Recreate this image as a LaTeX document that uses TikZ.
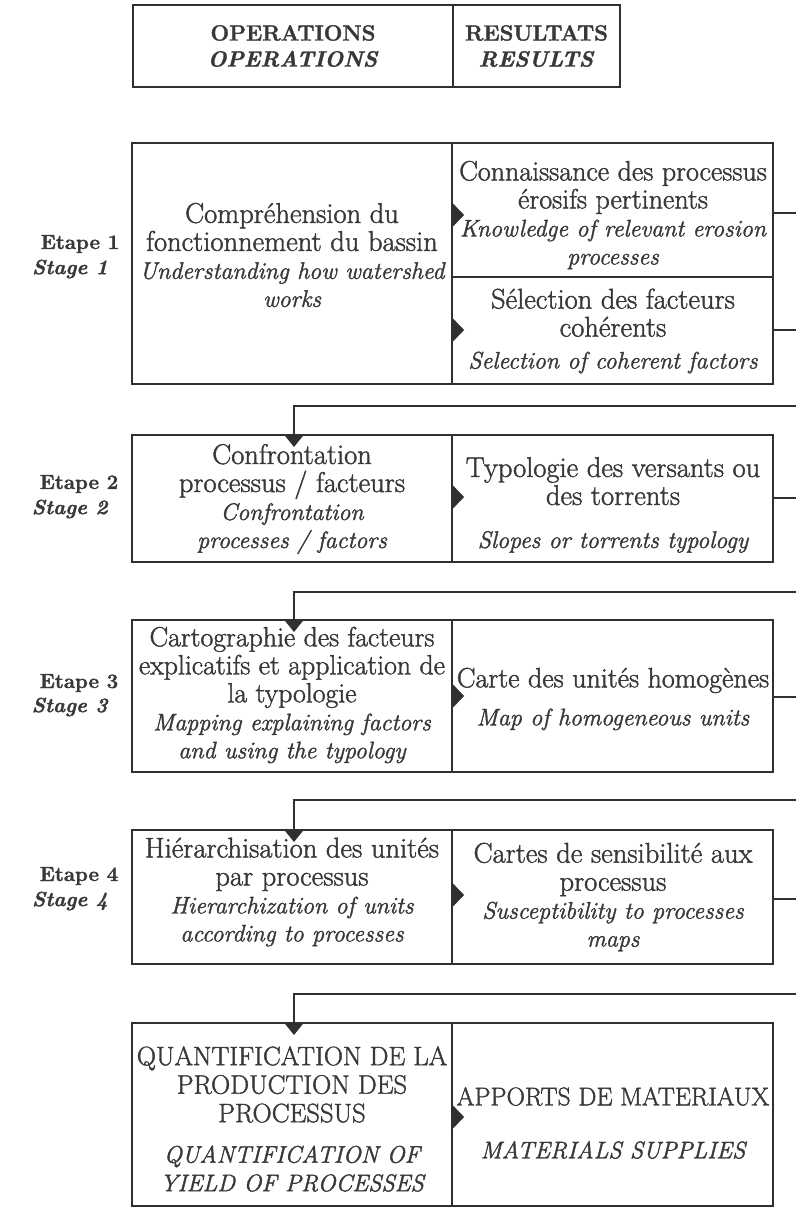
\documentclass[tikz,border=0pt]{standalone}
\usepackage{fontspec}
\setmainfont{Latin Modern Roman}[FakeBold=1.5]
\usetikzlibrary{arrows.meta}
\definecolor{ink}{HTML}{383838}
\definecolor{rule}{HTML}{303030}
\newcommand\tr[1]{{\fontsize{24}{28}\selectfont\itshape #1}}
\begin{document}
\begin{tikzpicture}[x=1pt,y=-1pt,
  cell/.style={draw=rule, line width=1.6pt, inner sep=0pt, anchor=center},
  txt/.style={text=ink, align=center, inner sep=0pt, font=\fontsize{28.5}{28}\selectfont},
  hdr/.style={txt, font=\fontsize{22}{26}\selectfont\bfseries},
  stg/.style={txt, font=\fontsize{20.5}{26}\selectfont\bfseries},
  conn/.style={draw=rule, line width=1.6pt},
  tipD/.style={conn, -{Triangle[length=12pt,width=19pt]}},
  tipR/.style={draw=rule, line width=0.1pt, -{Triangle[length=12pt,width=25pt]}}]
\useasboundingbox (0,0) rectangle (796,1208);
% header
\node[cell, minimum width=320pt, minimum height=82pt] (hL) at (293,46) {};
\node[cell, minimum width=167pt, minimum height=82pt] (hR) at (536.5,46) {};
\node[hdr] (hLt) at (hL) {OPERATIONS\\\textit{OPERATIONS}};
\node[hdr] (hRt) at (hR) {RESULTATS\\\textit{RESULTS}};
% stage 1
\node[cell, minimum width=320pt, minimum height=241pt] (s1o) at (292,263.5) {};
\node[cell, minimum width=321pt, minimum height=134pt] (s1a) at (612.5,210) {};
\node[cell, minimum width=321pt, minimum height=107pt] (s1b) at (612.5,330.5) {};
\node[txt] (s1ot) at (292,255) {Compréhension du\\fonctionnement du bassin\\\tr{Understanding how watershed}\\\tr{works}};
\node[txt, font=\fontsize{28}{28}\selectfont] (s1at) at (613,215) {Connaissance des processus\\érosifs pertinents\\\tr{Knowledge of relevant erosion}\\\tr{processes}};
\node[txt] (s1bt) at (613,331) {Sélection des facteurs\\cohérents\\[4pt]\tr{Selection of coherent factors}};
\node[stg] (e1) at (80,244) {Etape 1};
\node[stg] (g1) at (70,269) {\textit{Stage 1}};
% stage 2
\node[cell, minimum width=320pt, minimum height=127pt] (s2o) at (292,498.5) {};
\node[cell, minimum width=321pt, minimum height=127pt] (s2r) at (612.5,498.5) {};
\node[txt] (s2ot) at (292,499) {Confrontation\\processus / facteurs\\\tr{Confrontation}\\\tr{processes / factors}};
\node[txt] (s2rt) at (613,505) {Typologie des versants ou\\des torrents\\[15pt]\tr{Slopes or torrents typology}};
\node[stg] (e2) at (79,484) {Etape 2};
\node[stg] (g2) at (70,509) {\textit{Stage 2}};
% stage 3
\node[cell, minimum width=320pt, minimum height=152pt] (s3o) at (292,696) {};
\node[cell, minimum width=321pt, minimum height=152pt] (s3r) at (612.5,696) {};
\node[txt, font=\fontsize{27.8}{28}\selectfont] (s3ot) at (292,695) {Cartographie des facteurs\\explicatifs et application de\\la typologie\\\tr{Mapping explaining factors}\\\tr{and using the typology}};
\node[txt, font=\fontsize{28}{28}\selectfont] (s3rt) at (613,699) {Carte des unités homogènes\\[10pt]\tr{Map of homogeneous units}};
\node[stg] (e3) at (79,683) {Etape 3};
\node[stg] (g3) at (70,707) {\textit{Stage 3}};
% stage 4
\node[cell, minimum width=320pt, minimum height=134pt] (s4o) at (292,897) {};
\node[cell, minimum width=321pt, minimum height=134pt] (s4r) at (612.5,897) {};
\node[txt] (s4ot) at (292,892) {Hiérarchisation des unités\\par processus\\\tr{Hierarchization of units}\\\tr{according to processes}};
\node[txt] (s4rt) at (613,897) {Cartes de sensibilité aux\\processus\\\tr{Susceptibility to processes}\\\tr{maps}};
\node[stg] (e4) at (79,876) {Etape 4};
\node[stg] (g4) at (70,901) {\textit{Stage 4}};
% stage 5
\node[cell, minimum width=320pt, minimum height=183pt] (s5o) at (292,1114.5) {};
\node[cell, minimum width=321pt, minimum height=183pt] (s5r) at (612.5,1114.5) {};
\node[txt, font=\fontsize{26.7}{28.5}\selectfont] (s5ot) at (292,1119) {QUANTIFICATION DE LA\\PRODUCTION DES\\PROCESSUS\\[12pt]\tr{QUANTIFICATION OF}\\\tr{YIELD OF PROCESSES}};
\node[txt, font=\fontsize{25.6}{28}\selectfont] (s5rt) at (613,1123) {APPORTS DE MATERIAUX\\[25pt]\tr{MATERIALS SUPPLIES}};
% coordinates
\coordinate (o1a) at (796,213);
\coordinate (o1b) at (796,330);
\coordinate (o2) at (796,498);
\coordinate (o3) at (796,697);
\coordinate (o4) at (796,899);
\coordinate (k2) at (796,406);
\coordinate (k3) at (796,592);
\coordinate (k4) at (796,800);
\coordinate (k5) at (796,994);
\coordinate (t2) at (294,447);
\coordinate (t3) at (294,632);
\coordinate (t4) at (294,842);
\coordinate (t5) at (294,1035);
\coordinate (r1a) at (464,215);
\coordinate (r1b) at (464,330);
\coordinate (r2) at (464,497);
\coordinate (r3) at (464,696);
\coordinate (r4) at (464,895);
\coordinate (r5) at (464,1117);
% outgoing stubs
\draw[conn] (s1a.east |- o1a) -- (o1a);
\draw[conn] (s1b.east |- o1b) -- (o1b);
\draw[conn] (s2r.east |- o2) -- (o2);
\draw[conn] (s3r.east |- o3) -- (o3);
\draw[conn] (s4r.east |- o4) -- (o4);
% incoming connectors
\draw[tipD] (k2) -| (t2);
\draw[tipD] (k3) -| (t3);
\draw[tipD] (k4) -| (t4);
\draw[tipD] (k5) -| (t5);
% operation to result arrows
\draw[tipR] (s1o.east |- r1a) -- (r1a);
\draw[tipR] (s1o.east |- r1b) -- (r1b);
\draw[tipR] (s2o.east |- r2) -- (r2);
\draw[tipR] (s3o.east |- r3) -- (r3);
\draw[tipR] (s4o.east |- r4) -- (r4);
\draw[tipR] (s5o.east |- r5) -- (r5);
\end{tikzpicture}
\end{document}
